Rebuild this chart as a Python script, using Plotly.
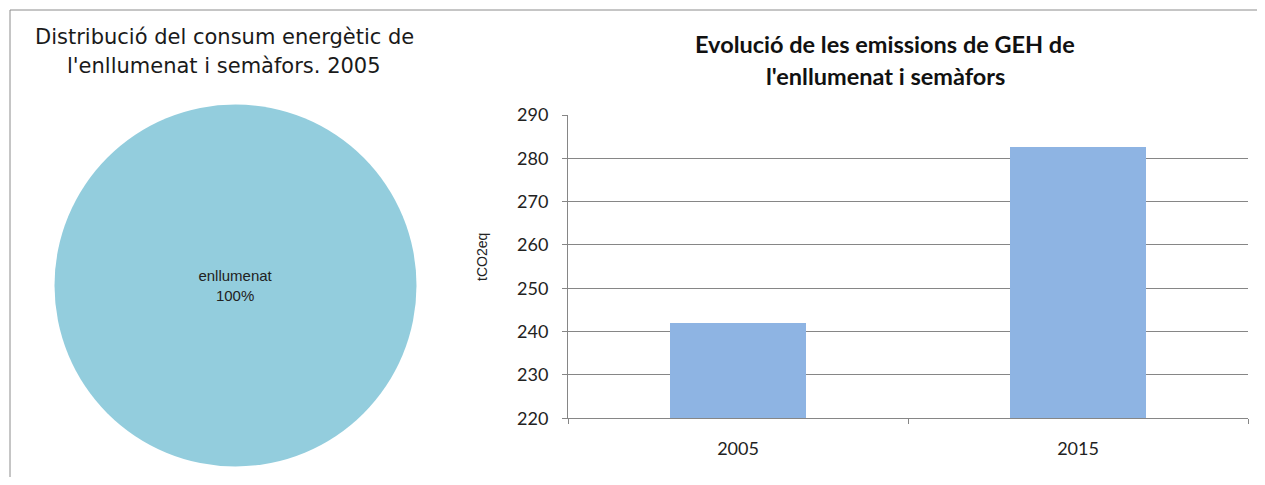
import plotly.graph_objects as go

# Data
pie_labels = ["enllumenat"]
pie_values = [100]

years = ["2005", "2015"]
emissions = [242, 282.6]

y_ticks = [220, 230, 240, 250, 260, 270, 280, 290]

# Figure size chosen so the page (with the 8px body margin) fits the window
W, H = 1249, 469
OX, OY = 8, 8  # page offset of the plot div


def px_x(x):
    """screen x -> paper x"""
    return (x - OX) / W


def px_y(y):
    """screen y -> paper y"""
    return 1 - (y - OY) / H


fig = go.Figure()

fig.add_trace(go.Pie(
    labels=pie_labels,
    values=pie_values,
    marker=dict(colors=["#93CDDD"], line=dict(width=0)),
    texttemplate="%{label}<br>%{percent:.0%}",
    textposition="inside",
    insidetextfont=dict(family="Liberation Sans, Arial", size=15, color="#222222"),
    sort=False,
    showlegend=False,
    hoverinfo="label+percent",
    automargin=False,
    domain=dict(x=[px_x(235.5 - 181), px_x(235.5 + 181)],
                y=[px_y(285.5 + 181), px_y(285.5 - 181)]),
))

fig.add_trace(go.Bar(
    x=years,
    y=emissions,
    marker=dict(color="#8EB4E3", line=dict(width=0)),
    width=0.4,
    showlegend=False,
    xaxis="x",
    yaxis="y",
))

tick_font = dict(family="Lato, Carlito, Calibri, sans-serif", size=18, color="#222222")

fig.update_layout(
    width=W, height=H,
    autosize=False,
    margin=dict(l=0, r=0, t=0, b=0, pad=0, autoexpand=False),
    paper_bgcolor="white",
    plot_bgcolor="white",
    xaxis=dict(
        domain=[px_x(568), px_x(1248)],
        type="category",
        showgrid=False,
        showline=True, linecolor="#868686", linewidth=1,
        ticks="outside", ticklen=5, tickcolor="#868686",
        tickson="boundaries",
        tickfont=tick_font,
        ticklabelstandoff=14,
        automargin=False,
        anchor="y",
        fixedrange=True,
    ),
    yaxis=dict(
        domain=[px_y(418.3), px_y(115)],
        range=[220, 290],
        tickvals=y_ticks,
        showgrid=True, gridcolor="#868686", gridwidth=1,
        showline=True, linecolor="#868686", linewidth=1,
        ticks="outside", ticklen=5, tickcolor="#868686",
        tickfont=tick_font,
        ticklabelstandoff=10,
        automargin=False,
        zeroline=False,
        anchor="x",
        fixedrange=True,
    ),
    annotations=[
        dict(text="Distribució del consum energètic de", x=px_x(224), y=px_y(37),
             xref="paper", yref="paper", showarrow=False, xanchor="center", yanchor="middle",
             font=dict(family="DejaVu Sans", size=21, color="#1a1a1a")),
        dict(text="l'enllumenat i semàfors. 2005", x=px_x(224), y=px_y(66),
             xref="paper", yref="paper", showarrow=False, xanchor="center", yanchor="middle",
             font=dict(family="DejaVu Sans", size=21, color="#1a1a1a")),
        dict(text="<b>Evolució de les emissions de GEH de</b>", x=px_x(885), y=px_y(44),
             xref="paper", yref="paper", showarrow=False, xanchor="center", yanchor="middle",
             font=dict(family="Lato, Carlito, Calibri, sans-serif", size=23.5, color="#111111")),
        dict(text="<b>l'enllumenat i semàfors</b>", x=px_x(885), y=px_y(76),
             xref="paper", yref="paper", showarrow=False, xanchor="center", yanchor="middle",
             font=dict(family="Lato, Carlito, Calibri, sans-serif", size=23.5, color="#111111")),
        dict(text="tCO2eq", x=px_x(482), y=px_y(257), textangle=-90,
             xref="paper", yref="paper", showarrow=False, xanchor="center", yanchor="middle",
             font=dict(family="Liberation Sans, Arial", size=14, color="#222222")),
    ],
    shapes=[
        dict(type="line", xref="paper", yref="paper",
             x0=px_x(10), x1=1, y0=px_y(10), y1=px_y(10),
             line=dict(color="#8C8C8C", width=1)),
        dict(type="line", xref="paper", yref="paper",
             x0=px_x(10), x1=px_x(10), y0=px_y(10), y1=0,
             line=dict(color="#8C8C8C", width=1)),
    ],
)

fig.write_html("out.html", config={"responsive": False})
